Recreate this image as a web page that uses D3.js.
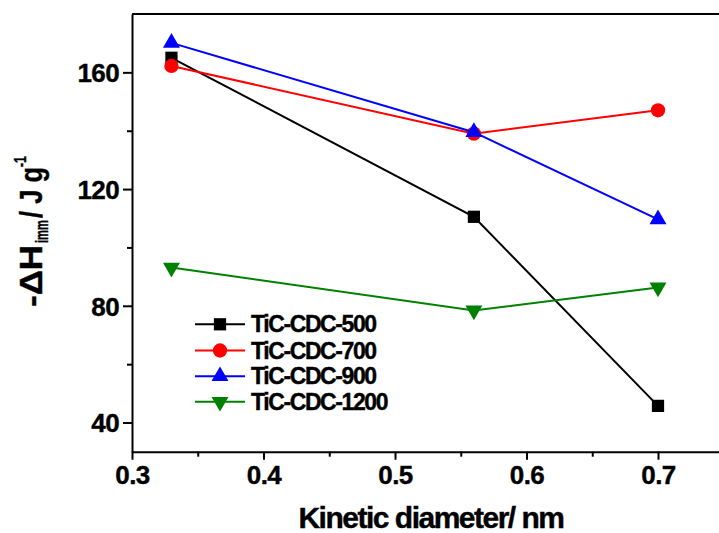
<!DOCTYPE html>
<html>
<head>
<meta charset="utf-8">
<script src="https://cdn.jsdelivr.net/npm/d3@7"></script>
<style>
  html, body { margin: 0; padding: 0; background: #fff; }
  svg { display: block; }
  text { font-family: "Liberation Sans", Arial, sans-serif; font-weight: bold; fill: #000; stroke: #000; stroke-width: 0.4px; }
</style>
</head>
<body>
<svg id="chart" width="719" height="533"></svg>
<script>
// Kinetic diameters of the probe molecules (nm)
const diameters = [0.33, 0.56, 0.70];

// Immersion enthalpies, -ΔH_imm (J/g), one array per sample
const seriesNames = ["TiC-CDC-500", "TiC-CDC-700", "TiC-CDC-900", "TiC-CDC-1200"];
const cdc500  = [165.0, 110.5, 45.7];
const cdc700  = [162.2, 139.0, 147.0];
const cdc900  = [170.1, 139.5, 109.6];
const cdc1200 = [93.1, 78.4, 86.3];

const xTicks = [0.3, 0.4, 0.5, 0.6, 0.7];
const xMinorTicks = [0.35, 0.45, 0.55, 0.65];
const yTicks = [40, 80, 120, 160];
const yMinorTicks = [60, 100, 140];

const seriesValues = [cdc500, cdc700, cdc900, cdc1200];
const colors = ["#000000", "#ff0000", "#0000ff", "#008000"];

// marker shapes for each series
const sqr = d3.symbol().type(d3.symbolSquare).size(150)();
const circ = d3.symbol().type(d3.symbolCircle).size(160)();
const triUp = d3.symbol().type(d3.symbolTriangle).size(125)();
const shapes = [
  { path: sqr, rot: 0 },
  { path: circ, rot: 0 },
  { path: triUp, rot: 0 },
  { path: triUp, rot: 180 }
];

const svg = d3.select("#chart");
const plotLeft = 132, plotRight = 723.75, plotTop = 14, plotBottom = 451.7;

const x = d3.scaleLinear().domain([0.3, 0.75]).range([plotLeft, plotRight]);
const y = d3.scaleLinear().domain([30, 180]).range([plotBottom, plotTop]);

// top frame line
svg.append("line")
  .attr("x1", plotLeft).attr("x2", plotRight).attr("y1", plotTop).attr("y2", plotTop)
  .attr("stroke", "#000").attr("stroke-width", 2);

// bottom axis
const xAxis = svg.append("g")
  .attr("transform", `translate(0,${plotBottom})`)
  .call(d3.axisBottom(x).tickValues(xTicks).tickFormat(d3.format(".1f")).tickSize(8).tickPadding(6).tickSizeOuter(0));
svg.append("g")
  .attr("transform", `translate(0,${plotBottom})`)
  .call(d3.axisBottom(x).tickValues(xMinorTicks).tickFormat("").tickSize(5).tickSizeOuter(0))
  .call(g => g.select(".domain").remove());

// left axis
const yAxis = svg.append("g")
  .attr("transform", `translate(${plotLeft},0)`)
  .call(d3.axisLeft(y).tickValues(yTicks).tickSize(9).tickPadding(4).tickSizeOuter(0));
svg.append("g")
  .attr("transform", `translate(${plotLeft},0)`)
  .call(d3.axisLeft(y).tickValues(yMinorTicks).tickFormat("").tickSize(5).tickSizeOuter(0))
  .call(g => g.select(".domain").remove());

svg.selectAll(".domain, .tick line").attr("stroke", "#000").attr("stroke-width", 2);
svg.selectAll(".tick text")
  .style("font-family", '"Liberation Sans", Arial, sans-serif')
  .style("font-weight", "bold")
  .style("font-size", "26px")
  .style("letter-spacing", "-0.6px")
  .attr("fill", "#000");
yAxis.selectAll(".tick text").attr("dy", "0.36em");
xAxis.selectAll(".tick text").attr("dy", "0.72em");

// series lines and markers
const line = d3.line().x((d, i) => x(diameters[i])).y(d => y(d));
seriesValues.forEach((vals, s) => {
  const g = svg.append("g");
  g.append("path")
    .datum(vals)
    .attr("d", line)
    .attr("fill", "none")
    .attr("stroke", colors[s])
    .attr("stroke-width", 2);
  g.selectAll("path.m")
    .data(vals)
    .join("path")
    .attr("class", "m")
    .attr("d", shapes[s].path)
    .attr("transform", (d, i) => `translate(${x(diameters[i])},${y(d)}) rotate(${shapes[s].rot})`)
    .attr("fill", colors[s]);
});

// legend
const legend = svg.append("g");
const rowY = [324.3, 350.5, 376.2, 401.8];
seriesNames.forEach((name, s) => {
  const g = legend.append("g").attr("transform", `translate(0,${rowY[s]})`);
  g.append("line").attr("x1", 195).attr("x2", 245).attr("y1", 0).attr("y2", 0)
    .attr("stroke", colors[s]).attr("stroke-width", 2);
  g.append("path").attr("d", shapes[s].path)
    .attr("transform", `translate(220,0) rotate(${shapes[s].rot})`)
    .attr("fill", colors[s]);
  g.append("text").attr("x", 251).attr("y", 8)
    .style("font-size", "23px").style("letter-spacing", "-1.4px")
    .text(name);
});

// x axis title
svg.append("text")
  .attr("x", 431).attr("y", 528)
  .attr("text-anchor", "middle")
  .style("font-size", "30px").style("letter-spacing", "-1.5px")
  .text("Kinetic diameter/ nm");

// y axis title, laid out piece by piece along the rotated baseline
const yt = svg.append("g").attr("transform", "translate(41.5,307) rotate(-90)");
yt.append("text").attr("x", 0).attr("y", 0)
  .attr("textLength", 62).attr("lengthAdjust", "spacingAndGlyphs")
  .style("font-size", "32px").text("-ΔH");
yt.append("text").attr("x", 64).attr("y", 6)
  .attr("textLength", 23).attr("lengthAdjust", "spacingAndGlyphs")
  .style("font-size", "18px").text("imm");
yt.append("text").attr("x", 89).attr("y", 0)
  .attr("textLength", 51).attr("lengthAdjust", "spacingAndGlyphs")
  .style("font-size", "32px").text("/ J g");
yt.append("text").attr("x", 140).attr("y", -16)
  .attr("textLength", 11).attr("lengthAdjust", "spacingAndGlyphs")
  .style("font-size", "17px").text("-1");
</script>
</body>
</html>
